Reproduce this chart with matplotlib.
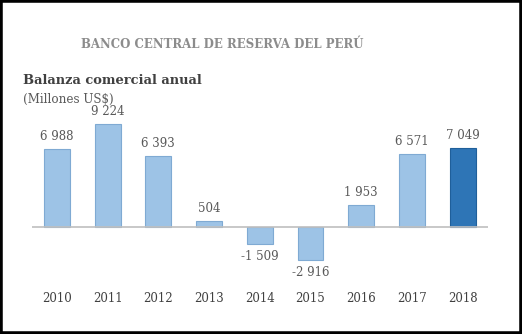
import matplotlib
matplotlib.use("Agg")
import matplotlib.pyplot as plt
from matplotlib.patches import Rectangle

years = ["2010", "2011", "2012", "2013", "2014", "2015", "2016", "2017", "2018"]
saldo = [6988, 9224, 6393, 504, -1509, -2916, 1953, 6571, 7049]
etiquetas = ["6 988", "9 224", "6 393", "504", "-1 509", "-2 916", "1 953", "6 571", "7 049"]

claro = "#9DC3E6"
oscuro = "#2E75B6"
colores = [claro] * 8 + [oscuro]
bordes = ["#7FAAD3"] * 8 + ["#1F5F9A"]

fig = plt.figure(figsize=(5.22, 3.34), dpi=100)
fig.patch.set_facecolor("white")

ax = fig.add_axes([32 / 522, (334 - 275) / 334, 456 / 522, 160 / 334])
x = list(range(len(years)))
ax.bar(x, saldo, width=0.51, color=colores, edgecolor=bordes, linewidth=0.8, zorder=2)
ax.axhline(0, color="#BFBFBF", lw=1.2, zorder=3)
ax.set_xlim(-0.49, 8.5)
ax.set_ylim(-4301, 10035)
ax.axis("off")

serif = ["DejaVu Serif"]
for xi, v, lab in zip(x, saldo, etiquetas):
    if v >= 0:
        ax.annotate(lab, (xi, v), xytext=(0, 6), textcoords="offset pixels",
                    ha="center", va="bottom", fontsize=8.5, color="#595959", family=serif)
    else:
        ax.annotate(lab, (xi, v), xytext=(0, -6), textcoords="offset pixels",
                    ha="center", va="top", fontsize=8.5, color="#595959", family=serif)

tr = ax.get_xaxis_transform()
for xi, y in zip(x, years):
    ax.text(xi, -0.15, y, transform=tr, ha="center", va="center",
            fontsize=8.5, color="#404040", family=serif)

fig.text(81 / 522, 1 - 45 / 334, "BANCO CENTRAL DE RESERVA DEL PERÚ", ha="left", va="center",
         fontsize=8.5, color="#8C8C8C", family=serif, weight="bold")
fig.text(23 / 522, 1 - 80 / 334, "Balanza comercial anual", ha="left", va="center",
         fontsize=9.4, color="#404040", family=serif, weight="bold")
fig.text(23 / 522, 1 - 99 / 334, "(Millones US$)", ha="left", va="center",
         fontsize=8.6, color="#595959", family=serif)

fig.patches.append(Rectangle((0, 0), 1, 1, transform=fig.transFigure, fill=False,
                             edgecolor="black", linewidth=4, zorder=10))

fig.savefig("out.png", dpi=100)
